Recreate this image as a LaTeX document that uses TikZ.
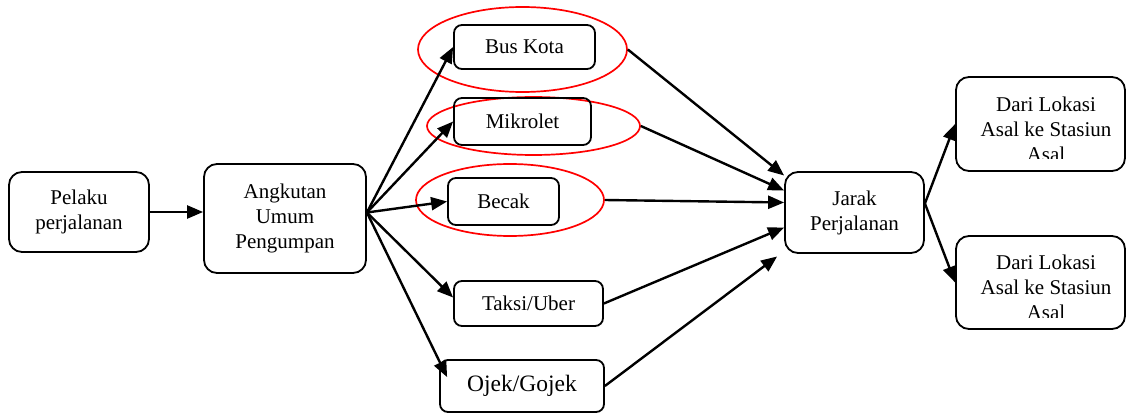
\documentclass[tikz,border=0pt]{standalone}
\usepackage{fontspec}
\setmainfont{Liberation Serif}
\usetikzlibrary{arrows.meta,shapes.geometric}
\tikzstyle{modebox}=[draw, rounded corners=8pt, line width=1.8pt, align=center, inner sep=0pt]
\tikzstyle{bigbox}=[modebox, rounded corners=13pt]
\tikzstyle{ring}=[draw=red, ellipse, line width=1.7pt, inner sep=0pt]
\tikzstyle{flow}=[line width=2.4pt, -{Triangle[length=16pt,width=13pt]}]

\begin{document}
\begin{tikzpicture}[x=1pt, y=-1pt, font=\fontsize{21}{25}\selectfont]
    \useasboundingbox (0,0) rectangle (1127,414);

    % red rings behind the first three modes
    \node[ring, minimum width=209pt, minimum height=85pt] (ringBus) at (522.5,49.5) {};
    \node[ring, minimum width=213pt, minimum height=58pt] (ringMik) at (533.5,126) {};
    \node[ring, minimum width=188pt, minimum height=72pt] (ringBec) at (510,200) {};

    \node[bigbox, minimum width=140pt, minimum height=80pt] (pelaku) at (79,212) {Pelaku\\perjalanan};
    \node[bigbox, minimum width=162pt, minimum height=109pt] (angkutan) at (285,218.5) {Angkutan\\Umum\\Pengumpan};

    \node[modebox, minimum width=141pt, minimum height=44pt] (bus) at (524.5,47) {Bus Kota};
    \node[modebox, minimum width=137pt, minimum height=47pt] (mikrolet) at (522.5,121.5) {Mikrolet};
    \node[modebox, minimum width=111pt, minimum height=47pt] (becak) at (503.5,201.5) {Becak};
    \node[modebox, minimum width=149pt, minimum height=45pt] (taksi) at (528.5,303.5) {Taksi/Uber};
    \node[modebox, minimum width=164pt, minimum height=52pt, font=\fontsize{23.5}{27}\selectfont] (ojek) at (522,386) {Ojek/Gojek};

    \node[bigbox, minimum width=139pt, minimum height=81pt] (jarak) at (854.5,212.5) {Jarak\\Perjalanan};

    % destination boxes, last line cut off at the bottom
    \node[bigbox, minimum width=169pt, minimum height=94pt] (dari1) at (1040.5,124) {};
    \node[bigbox, minimum width=169pt, minimum height=93pt] (dari2) at (1040.5,282.5) {};
    \begin{scope}
        \clip (dari1.north west) rectangle ([yshift=13pt]dari1.south east);
        \node[align=center] (dari1txt) at (1046,129) {Dari Lokasi\\Asal ke Stasiun\\Asal};
    \end{scope}
    \begin{scope}
        \clip (dari2.north west) rectangle ([yshift=12pt]dari2.south east);
        \node[align=center] (dari2txt) at (1046,287) {Dari Lokasi\\Asal ke Stasiun\\Asal};
    \end{scope}

    % Arcs
    \draw[flow] (pelaku.east) -- (pelaku.east -| angkutan.west);

    \coordinate (fan) at ([yshift=6pt]angkutan.east);
    \draw[flow] (fan) -- (bus.west);
    \draw[flow] (fan) -- (mikrolet.west);
    \draw[flow] (fan) -- (becak.west);
    \draw[flow] (fan) -- ([yshift=6pt]taksi.west);
    \draw[flow] (fan) -- ([xshift=8pt,yshift=-18pt]ojek.north west);

    \draw[flow] (ringBus.east) -- ([yshift=37pt]jarak.west);
    \draw[flow] (ringMik.east) -- ([yshift=22pt]jarak.west);
    \draw[flow] (ringBec.east) -- ([yshift=10pt]jarak.west);
    \draw[flow] (taksi.east) -- ([yshift=-15pt]jarak.west);
    \draw[flow] (ojek.east) -- ([xshift=-7pt,yshift=-44pt]jarak.west);

    \coordinate (split) at ([yshift=9pt]jarak.east);
    \draw[flow] (split) -- (dari1.west);
    \draw[flow] (split) -- (dari2.west);

\end{tikzpicture}
\end{document}
